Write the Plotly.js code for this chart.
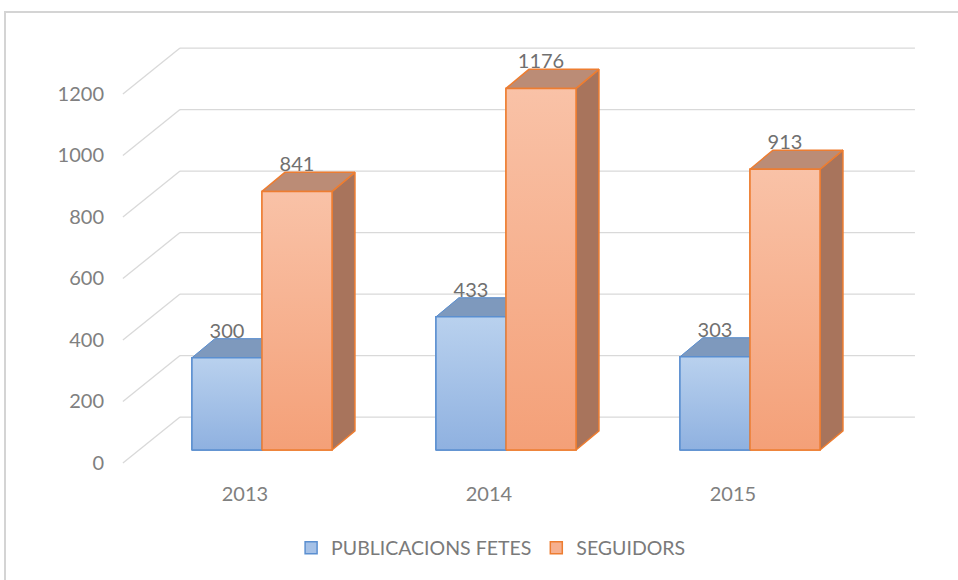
<!DOCTYPE html>
<html>
<head>
<meta charset="utf-8">
<script src="https://cdn.plot.ly/plotly-3.0.1.min.js"></script>
<style>html,body{margin:0;padding:0;background:#fff;}#chart{width:958px;height:580px;}</style>
</head>
<body>
<div id="chart"></div>
<script>
// ---- data ----
const years = ['2013', '2014', '2015'];
const publicacions = [300, 433, 303];
const seguidors = [841, 1176, 913];
const yTickValues = [0, 200, 400, 600, 800, 1000, 1200];
const seriesNames = ['PUBLICACIONS FETES', 'SEGUIDORS'];

// ---- 3D look geometry (in axis units) ----
const W = 0.287;      // bar width
const DX = 0.094;     // depth offset x
const DY = 62;        // depth offset y
const LABEL_PLANE = -42; // front plane of axis labels (y shift)
const WALL = 107;        // back wall (y shift)
const XF = -0.570, XB = -0.336, XE = 2.676;

const cats = years.map((_, i) => i);
const font = 'Lato, "Open Sans", sans-serif';

const blue = {front: '#a5c1e7', top: '#7e99bd', line: '#5b8fd0', g0: '#8fb1e0', g1: '#b9d1ee'};
const orange = {front: '#f6b08f', top: '#bb8c76', side: '#a8745c', line: '#ed7d31', g0: '#f4a078', g1: '#f9c2a7'};

const traces = [];
traces.push({
  type: 'bar', x: cats, y: publicacions, name: seriesNames[0],
  width: W, offset: -W,
  marker: {color: blue.front, line: {color: blue.line, width: 1.5}},
  hoverinfo: 'skip'
});
traces.push({
  type: 'bar', x: cats, y: seguidors, name: seriesNames[1],
  width: W, offset: 0,
  marker: {color: orange.front, line: {color: orange.line, width: 1.5}},
  hoverinfo: 'skip'
});

function poly(xs, ys, fill, line, lw, grad) {
  const t = {
    type: 'scatter', mode: 'lines', x: xs.concat([xs[0]]), y: ys.concat([ys[0]]),
    fill: 'toself', fillcolor: fill, line: {color: line, width: lw},
    showlegend: false, hoverinfo: 'skip'
  };
  if (grad) t.fillgradient = {type: 'vertical', colorscale: [[0, grad[0]], [1, grad[1]]]};
  return t;
}

cats.forEach((c, i) => {
  const v = publicacions[i];
  traces.push(poly([c - W, c, c, c - W + DX], [v, v, v + DY, v + DY], blue.top, blue.top, 0.5));
  traces.push({type: 'scatter', mode: 'lines', x: [c - W, c - W + DX, c], y: [v, v + DY, v + DY],
    line: {color: blue.line, width: 1}, showlegend: false, hoverinfo: 'skip'});
  traces.push(poly([c - W, c, c, c - W], [0, 0, v, v], blue.front, blue.line, 1.5, [blue.g0, blue.g1]));
});
cats.forEach((c, i) => {
  const v = seguidors[i];
  traces.push(poly([c + W, c + W, c + W + DX, c + W + DX], [0, v, v + DY, DY], orange.side, orange.line, 1.5));
  traces.push(poly([c, c + W, c + W + DX, c + DX], [v, v, v + DY, v + DY], orange.top, orange.line, 1.5));
  traces.push(poly([c, c + W, c + W, c], [0, 0, v, v], orange.front, orange.line, 1.5, [orange.g0, orange.g1]));
});

// data labels
traces.push({
  type: 'scatter', mode: 'text',
  x: cats.map(c => c - W / 2).concat(cats.map(c => c + W / 2)),
  y: publicacions.map(v => v + 81).concat(seguidors.map(v => v + 81)),
  text: publicacions.map(String).concat(seguidors.map(String)),
  textposition: 'middle center',
  textfont: {family: font, size: 20, color: '#707070'},
  showlegend: false, hoverinfo: 'skip'
});

// gridlines (back wall + diagonal to label plane)
const shapes = [];
yTickValues.forEach(g => {
  shapes.push({type: 'line', layer: 'below', xref: 'x', yref: 'y', x0: XF, y0: g + LABEL_PLANE, x1: XB, y1: g + WALL,
    line: {color: '#d9d9d9', width: 1.3}});
  shapes.push({type: 'line', layer: 'below', xref: 'x', yref: 'y', x0: XB, y0: g + WALL, x1: XE, y1: g + WALL,
    line: {color: '#d9d9d9', width: 1.3}});
});
// chart frame
shapes.push({type: 'rect', layer: 'below', xref: 'paper', yref: 'paper',
  x0: -0.1212, x1: 1.05, y0: -0.25, y1: 1.04, line: {color: '#d4d4d4', width: 2}, fillcolor: 'rgba(0,0,0,0)'});

const layout = {
  width: 958, height: 580,
  margin: {l: 105, r: 28, t: 30, b: 100},
  paper_bgcolor: '#ffffff', plot_bgcolor: '#ffffff',
  showlegend: true,
  legend: {orientation: 'h', x: 0.468, xanchor: 'center', y: -0.151, yanchor: 'middle',
    font: {family: font, size: 19.5, color: '#7a7a7a'}, traceorder: 'normal', itemwidth: 30},
  xaxis: {range: [-0.6434, 2.7377], showgrid: false, zeroline: false, showline: false,
    tickmode: 'array', tickvals: cats.map(c => c - 0.07), ticktext: years, ticks: '',
    tickfont: {family: font, size: 20, color: '#808080'}, fixedrange: true},
  yaxis: {range: [-97.56, 1365.85], showgrid: false, zeroline: false, showline: false,
    tickmode: 'array', tickvals: yTickValues.map(g => g + LABEL_PLANE), ticktext: yTickValues.map(String), ticks: '',
    tickfont: {family: font, size: 20, color: '#808080'}, fixedrange: true},
  barmode: 'overlay',
  shapes: shapes
};

Plotly.newPlot('chart', traces, layout, {displayModeBar: false, staticPlot: true});
</script>
</body>
</html>
